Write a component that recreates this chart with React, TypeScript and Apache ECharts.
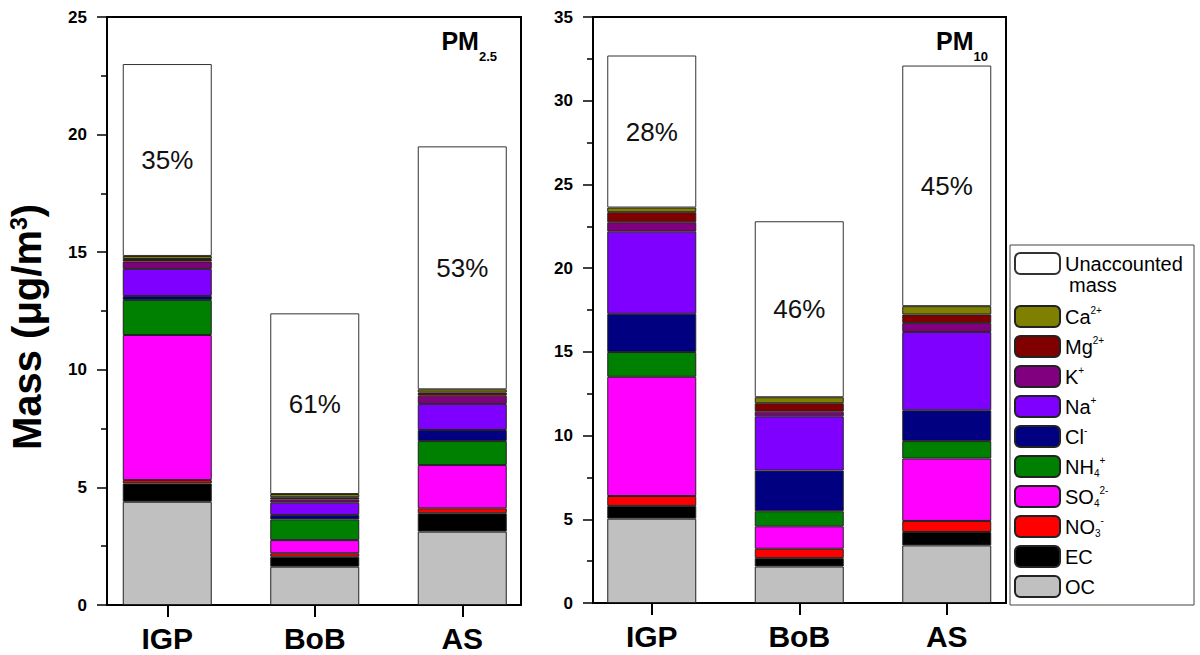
import React, { useEffect, useRef } from 'react';
import * as echarts from 'echarts';

const FONT = '"Liberation Sans", Arial, sans-serif';

const categories = ['IGP', 'BoB', 'AS'];

// PM2.5 species mass (ug/m3) for IGP, BoB, AS
const oc25 = [4.39, 1.63, 3.12];
const ec25 = [0.78, 0.42, 0.78];
const no3_25 = [0.14, 0.15, 0.21];
const so4_25 = [6.17, 0.56, 1.84];
const nh4_25 = [1.49, 0.88, 1.02];
const cl25 = [0.17, 0.19, 0.47];
const na25 = [1.15, 0.52, 1.11];
const k25 = [0.31, 0.14, 0.35];
const mg25 = [0.11, 0.09, 0.13];
const ca25 = [0.13, 0.14, 0.14];
const total25 = [23.0, 12.4, 19.5];
const pct25 = ['35%', '61%', '53%'];

// PM10 species mass (ug/m3) for IGP, BoB, AS
const oc10 = [5.04, 2.18, 3.44];
const ec10 = [0.76, 0.5, 0.8];
const no3_10 = [0.59, 0.56, 0.66];
const so4_10 = [7.12, 1.34, 3.73];
const nh4_10 = [1.48, 0.9, 1.04];
const cl10 = [2.28, 2.43, 1.84];
const na10 = [4.91, 3.24, 4.68];
const k10 = [0.56, 0.28, 0.54];
const mg10 = [0.6, 0.5, 0.5];
const ca10 = [0.28, 0.36, 0.5];
const total10 = [32.7, 22.8, 32.1];
const pct10 = ['28%', '46%', '45%'];

const species = ['OC', 'EC', 'NO3', 'SO4', 'NH4', 'Cl', 'Na', 'K', 'Mg', 'Ca'];
const speciesColors = [
  '#c0c0c0', '#000000', '#ff0000', '#ff00ff', '#008000',
  '#000080', '#8000ff', '#800080', '#800000', '#808000',
];
const UNACC = 'Unaccounted mass';

const legendText: Record<string, string> = {
  [UNACC]: 'Unaccounted',
  Ca: 'Ca{sup|2+}',
  Mg: 'Mg{sup|2+}',
  K: 'K{sup|+}',
  Na: 'Na{sup|+}',
  Cl: 'Cl{sup|-}',
  NH4: 'NH{sub|4}{sup|+}',
  SO4: 'SO{sub|4}{sup|2-}',
  NO3: 'NO{sub|3}{sup|-}',
  EC: 'EC',
  OC: 'OC',
};

const panels = [
  {
    values: [oc25, ec25, no3_25, so4_25, nh4_25, cl25, na25, k25, mg25, ca25],
    total: total25,
    pct: pct25,
    max: 25,
  },
  {
    values: [oc10, ec10, no3_10, so4_10, nh4_10, cl10, na10, k10, mg10, ca10],
    total: total10,
    pct: pct10,
    max: 35,
  },
];

const App: React.FC = () => {
  const chartRef = useRef<HTMLDivElement | null>(null);

  useEffect(() => {
    if (!chartRef.current) return;
    const chart = echarts.init(chartRef.current, null, { renderer: 'svg' });

    // grids 0/1 hold the bars (category bands), grids 2/3 are the framed axes
    const series: any[] = [];
    panels.forEach((panel, p) => {
      species.forEach((name, s) => {
        series.push({
          type: 'bar',
          name,
          xAxisIndex: p,
          yAxisIndex: p,
          stack: 'panel' + p,
          barWidth: 89,
          data: panel.values[s],
          itemStyle: { color: speciesColors[s], borderColor: '#222', borderWidth: 1 },
        });
      });
      series.push({
        type: 'bar',
        name: UNACC,
        xAxisIndex: p,
        yAxisIndex: p,
        stack: 'panel' + p,
        barWidth: 89,
        data: panel.total.map((t, i) => {
          const known = panel.values.reduce((acc, arr) => acc + arr[i], 0);
          return +(t - known).toFixed(2);
        }),
        itemStyle: { color: '#ffffff', borderColor: '#333', borderWidth: 1 },
        label: {
          show: true,
          position: 'inside',
          formatter: (prm: any) => panel.pct[prm.dataIndex],
          fontSize: 26,
          color: '#111',
          fontFamily: FONT,
        },
      });
    });

    const barXAxis = (gridIndex: number) => ({
      type: 'category',
      gridIndex,
      data: categories,
      axisLine: { show: false },
      axisTick: { show: true, alignWithLabel: true, length: 12, lineStyle: { color: '#000', width: 2 } },
      axisLabel: { fontSize: 30, fontWeight: 'bold', color: '#000', fontFamily: FONT, margin: 18 },
      splitLine: { show: false },
    });

    const barYAxis = (gridIndex: number, max: number) => ({
      type: 'value',
      gridIndex,
      min: 0,
      max,
      show: false,
      splitLine: { show: false },
    });

    const frameXAxis = (gridIndex: number) => ({
      type: 'value',
      gridIndex,
      min: 0,
      max: 1,
      axisLine: { show: true, onZero: false, lineStyle: { color: '#000', width: 2 } },
      axisTick: { show: false },
      axisLabel: { show: false },
      splitLine: { show: false },
    });

    const frameYAxis = (gridIndex: number, max: number) => ({
      type: 'value',
      gridIndex,
      min: 0,
      max,
      interval: 5,
      axisLine: { show: true, lineStyle: { color: '#000', width: 2 } },
      axisTick: { show: true, length: 10, lineStyle: { color: '#000', width: 1.5 } },
      minorTick: { show: true, splitNumber: 2, length: 6, lineStyle: { color: '#000', width: 1.5 } },
      axisLabel: { fontSize: 17, fontWeight: 'bold', color: '#000', fontFamily: FONT, margin: 20 },
      splitLine: { show: false },
    });

    const titleStyle = {
      fontSize: 25,
      fontWeight: 'bold',
      color: '#000',
      fontFamily: FONT,
      lineHeight: 44,
      rich: {
        s: { fontSize: 13, fontWeight: 'bold', color: '#000', fontFamily: FONT, lineHeight: 14, verticalAlign: 'bottom' },
      },
    };

    const legendTextStyle = {
      fontSize: 20,
      color: '#000',
      fontFamily: FONT,
      lineHeight: 23,
      rich: {
        sup: { fontSize: 10, color: '#000', fontFamily: FONT, lineHeight: 12, verticalAlign: 'top' },
        sub: { fontSize: 10, color: '#000', fontFamily: FONT, lineHeight: 12, verticalAlign: 'bottom' },
      },
    };

    const option: any = {
      animation: false,
      textStyle: { fontFamily: FONT },
      title: [
        { text: 'PM{s|2.5}', right: 703, top: 19, padding: 0, textStyle: titleStyle },
        { text: 'PM{s|10}', right: 212, top: 19, padding: 0, textStyle: titleStyle },
      ],
      graphic: [
        {
          type: 'rect',
          z: 1,
          shape: { x: 1010, y: 245, width: 184, height: 360 },
          style: { fill: '#fff', stroke: '#444', lineWidth: 1 },
        },
        {
          type: 'text',
          z: 5,
          x: 1069,
          y: 285,
          style: { text: 'mass', fontSize: 20, fill: '#000', fontFamily: FONT, verticalAlign: 'middle' },
        },
      ],
      legend: [
        {
          orient: 'vertical',
          left: 1014,
          top: 252,
          padding: 0,
          itemWidth: 45,
          itemHeight: 21,
          data: [UNACC],
          formatter: (name: string) => legendText[name] ?? name,
          textStyle: legendTextStyle,
        },
        {
          orient: 'vertical',
          left: 1014,
          top: 305,
          padding: 0,
          itemWidth: 45,
          itemHeight: 21,
          itemGap: 7,
          data: species.slice().reverse(),
          formatter: (name: string) => legendText[name] ?? name,
          textStyle: legendTextStyle,
        },
      ],
      grid: [
        { left: 93.5, top: 17, width: 442.5, height: 588 },
        { left: 578, top: 17, width: 442.5, height: 586 },
        { left: 107, top: 17, width: 414, height: 588, show: true, borderColor: '#000', borderWidth: 2, backgroundColor: 'transparent' },
        { left: 593, top: 17, width: 413, height: 586, show: true, borderColor: '#000', borderWidth: 2, backgroundColor: 'transparent' },
      ],
      xAxis: [barXAxis(0), barXAxis(1), frameXAxis(2), frameXAxis(3)],
      yAxis: [
        barYAxis(0, panels[0].max),
        barYAxis(1, panels[1].max),
        {
          ...frameYAxis(2, panels[0].max),
          name: 'Mass (μg/m{sup|3})',
          nameLocation: 'middle',
          nameRotate: 90,
          nameGap: 60,
          nameTextStyle: {
            fontSize: 40,
            fontWeight: 'bold',
            color: '#000',
            fontFamily: FONT,
            padding: [0, 32, 0, 0],
            rich: {
              sup: { fontSize: 23, fontWeight: 'bold', color: '#000', fontFamily: FONT, verticalAlign: 'top' },
            },
          },
        },
        frameYAxis(3, panels[1].max),
      ],
      series,
    };

    chart.setOption(option);

    return () => {
      chart.dispose();
    };
  }, []);

  return (
    <div
      ref={chartRef}
      style={{ position: 'absolute', left: 0, top: 0, width: '1200px', height: '655px', background: '#fff' }}
    />
  );
};

export default App;
